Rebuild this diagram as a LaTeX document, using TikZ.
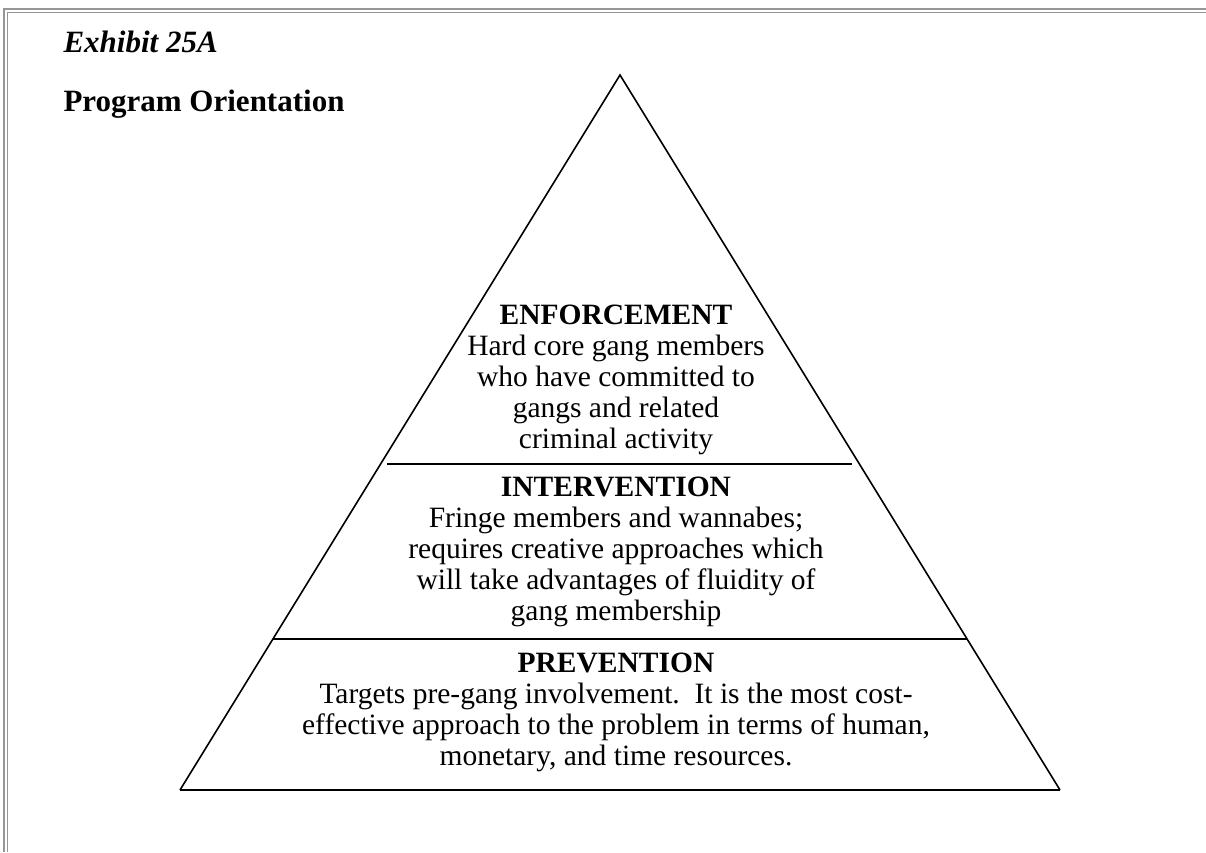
\documentclass[tikz,border=0pt]{standalone}
\usepackage{fontspec}
\setmainfont{Liberation Serif}
\usepackage{tikz}
\usetikzlibrary{calc}
\definecolor{ink}{RGB}{0,0,0}
\definecolor{frame}{RGB}{150,150,150}

\begin{document}
\begin{tikzpicture}[x=1pt,y=-1pt,
  body/.style={align=center,font=\fontsize{29.5}{31}\selectfont,ink},
  head/.style={anchor=west,font=\fontsize{31}{35}\selectfont\bfseries,ink}]
 \useasboundingbox (0,0) rectangle (1206,852);
 % page frame, double grey rule on top and left
 \draw[frame,line width=1.5pt] (1206,9)--(4,9)--(4,852);
 \draw[frame,line width=1.5pt] (1206,12.5)--(7.5,12.5)--(7.5,852);
 % titles
 \node[head] (exhibit) at (60,42) {\itshape Exhibit 25A};
 \node[head] (title) at (60,104) {Program Orientation};
 % pyramid
 \coordinate (apex) at (620,75);
 \coordinate (baseL) at (180,790);
 \coordinate (baseR) at (1060,790);
 \draw[ink,line width=1.6pt,line join=miter] (baseL)--(apex)--(baseR);
 \draw[ink,line width=2.6pt] (baseL)--(baseR);
 % tier lines
 \coordinate (upL) at (387,464);
 \coordinate (upR) at (852,464);
 \coordinate (lowL) at (273,639);
 \coordinate (lowR) at (967,639);
 \draw[ink,line width=2.6pt] (upL)--(upR);
 \draw[ink,line width=2.6pt] (lowL)--(lowR);
 % tier texts
 \node[body] (enf) at (616,380) {\textbf{ENFORCEMENT}\\Hard core gang members\\who have committed to\\gangs and related\\criminal activity};
 \node[body] (int) at (616,552) {\textbf{INTERVENTION}\\Fringe members and wannabes;\\requires creative approaches which\\will take advantages of fluidity of\\gang membership};
 \node[body] (prev) at (616,712) {\textbf{PREVENTION}\\Targets pre-gang involvement.\ \ It is the most cost-\\effective approach to the problem in terms of human,\\monetary, and time resources.};
\end{tikzpicture}
\end{document}
